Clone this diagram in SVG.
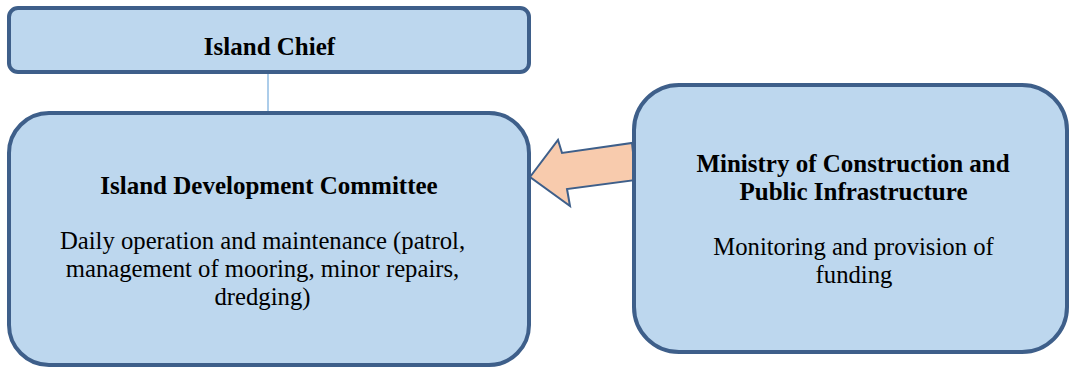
<svg xmlns="http://www.w3.org/2000/svg" width="1070" height="367" viewBox="0 0 1070 367">
<defs>
<linearGradient id="unused"><stop offset="0" stop-color="#BDD7EE"/></linearGradient>
</defs>
<rect width="1070" height="367" fill="#fff"/>
<g id="connectors">
<line x1="268" y1="73" x2="268" y2="113" stroke="#5B9BD5" stroke-width="1"/>
<path d="M530,177 L558,140 L562,153 L632,143 L636,180 L567,189 L570,206 Z" fill="#F8CBAD" stroke="#3E5F8A" stroke-width="2" stroke-linejoin="miter"/>
</g>
<g id="island-chief">
<rect x="9" y="8" width="520" height="64" rx="9" fill="#BDD7EE" stroke="#3E5F8A" stroke-width="4"/>
<text x="269.5" y="55" font-family="Liberation Serif" font-size="25" font-weight="bold" text-anchor="middle">Island Chief</text>
</g>
<g id="idc">
<rect x="9" y="113" width="520" height="252" rx="40" fill="#BDD7EE" stroke="#3E5F8A" stroke-width="4"/>
<text x="269" y="194" font-family="Liberation Serif" font-size="25" font-weight="bold" text-anchor="middle">Island Development Committee</text>
<text x="262.5" y="249" font-family="Liberation Serif" font-size="24.7" text-anchor="middle">Daily operation and maintenance (patrol,</text>
<text x="262.5" y="277" font-family="Liberation Serif" font-size="24.7" text-anchor="middle">management of mooring, minor repairs,</text>
<text x="262.5" y="305" font-family="Liberation Serif" font-size="24.7" text-anchor="middle">dredging)</text>
</g>
<g id="ministry">
<rect x="634" y="85" width="433" height="267" rx="45" fill="#BDD7EE" stroke="#3E5F8A" stroke-width="4"/>
<text x="853" y="172" font-family="Liberation Serif" font-size="25" font-weight="bold" text-anchor="middle">Ministry of Construction and</text>
<text x="853.5" y="200" font-family="Liberation Serif" font-size="25" font-weight="bold" text-anchor="middle">Public Infrastructure</text>
<text x="853.5" y="255" font-family="Liberation Serif" font-size="24.7" text-anchor="middle">Monitoring and provision of</text>
<text x="854" y="283" font-family="Liberation Serif" font-size="24.7" text-anchor="middle">funding</text>
</g>
</svg>
